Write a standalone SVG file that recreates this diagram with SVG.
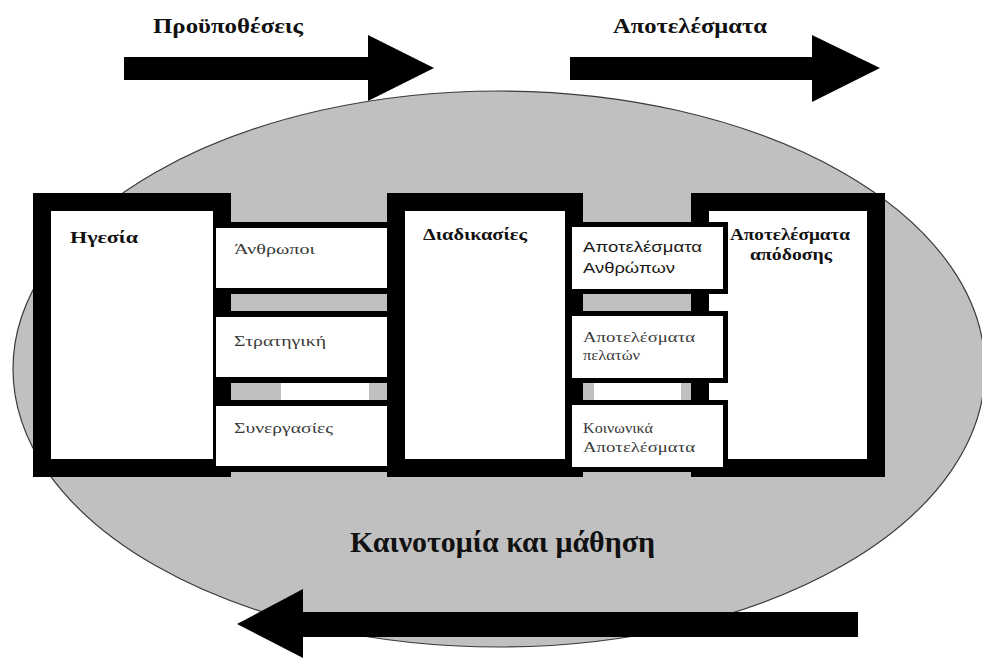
<svg xmlns="http://www.w3.org/2000/svg" width="982" height="659" viewBox="0 0 982 659">
  <style>
    .bold { font-family: "Liberation Serif", "DejaVu Serif", serif; font-weight: bold; fill: #111; }
    .item { font-family: "Liberation Serif", "DejaVu Serif", serif; font-size: 15px; fill: #3a3a3a; }
    .small { font-family: "Liberation Serif", "DejaVu Serif", serif; font-size: 14px; fill: #3a3a3a; }
    .sans { font-family: "Liberation Sans", Arial, sans-serif; font-size: 15px; fill: #1a1a1a; }
    .frame { fill: #ffffff; stroke: #000000; stroke-width: 18; }
    .box { fill: #ffffff; stroke: #000000; stroke-width: 5; }
    .strip { fill: #c0c0c0; }
    .gap { fill: #ffffff; }
    .arrow { fill: #000000; }
  </style>

  <!-- background ellipse -->
  <ellipse id="cycle" cx="499" cy="369" rx="486" ry="278" fill="#c0c0c0" stroke="#3a3a3a" stroke-width="1.2"/>

  <!-- arrows and the ladders that join the frames -->
  <g id="connectors">
    <polygon class="arrow" points="124,57 368,57 368,35 434,68 368,101 368,80 124,80"/>
    <polygon class="arrow" points="570,57 812,57 812,35 880,68 812,102 812,80 570,80"/>
    <polygon class="arrow" points="858,612 303,612 303,589 237,624 303,658 303,637 858,637"/>

    <!-- left ladder -->
    <rect x="213" y="222" width="176" height="250" fill="#000000"/>
    <rect class="strip" x="231" y="294" width="156" height="17"/>
    <rect class="strip" x="231" y="383" width="156" height="17"/>
    <rect class="gap" x="281" y="383" width="88" height="17"/>

    <!-- right ladder -->
    <rect class="strip" x="583" y="294" width="109" height="17"/>
    <rect class="strip" x="583" y="383" width="109" height="17"/>
    <rect class="gap" x="594" y="383" width="87" height="17"/>
  </g>

  <!-- main frames -->
  <g id="leadership">
    <rect class="frame" x="42" y="202" width="180" height="266"/>
    <text class="bold" x="70" y="243" font-size="17" textLength="68" lengthAdjust="spacingAndGlyphs">Ηγεσία</text>
  </g>
  <g id="processes">
    <rect class="frame" x="396" y="202" width="178" height="266"/>
    <text class="bold" x="423" y="240" font-size="16" textLength="104" lengthAdjust="spacingAndGlyphs">Διαδικασίες</text>
  </g>
  <g id="performance">
    <rect class="frame" x="700" y="202" width="176" height="266" stroke-width="17"/>
    <text class="bold" x="790" y="240" font-size="17" text-anchor="middle" textLength="120" lengthAdjust="spacingAndGlyphs">Αποτελέσματα</text>
    <text class="bold" x="791" y="260" font-size="17" text-anchor="middle" textLength="82" lengthAdjust="spacingAndGlyphs">απόδοσης</text>
  </g>

  <!-- enabler boxes -->
  <g id="people">
    <rect x="216" y="228" width="171" height="60" fill="#ffffff"/>
    <text class="item" x="234" y="254" textLength="81" lengthAdjust="spacingAndGlyphs">Άνθρωποι</text>
  </g>
  <g id="strategy">
    <rect x="216" y="317" width="171" height="60" fill="#ffffff"/>
    <text class="item" x="234" y="346" textLength="92" lengthAdjust="spacingAndGlyphs">Στρατηγική</text>
  </g>
  <g id="partnerships">
    <rect x="216" y="406" width="171" height="60" fill="#ffffff"/>
    <text class="item" x="234" y="433" textLength="99" lengthAdjust="spacingAndGlyphs">Συνεργασίες</text>
  </g>

  <!-- result boxes -->
  <g id="people-results">
    <rect class="box" x="569.5" y="224.5" width="156" height="67"/>
    <text class="sans" x="583" y="252" textLength="119" lengthAdjust="spacingAndGlyphs">Αποτελέσματα</text>
    <text class="sans" x="583" y="273" textLength="92" lengthAdjust="spacingAndGlyphs">Ανθρώπων</text>
  </g>
  <g id="customer-results">
    <rect class="box" x="569.5" y="313.5" width="156" height="67"/>
    <text class="small" x="583" y="342" textLength="112" lengthAdjust="spacingAndGlyphs">Αποτελέσματα</text>
    <text class="small" x="583" y="360" textLength="57" lengthAdjust="spacingAndGlyphs">πελατών</text>
  </g>
  <g id="society-results">
    <rect class="box" x="569.5" y="402.5" width="156" height="67"/>
    <text class="small" x="583" y="433" textLength="70" lengthAdjust="spacingAndGlyphs">Κοινωνικά</text>
    <text class="small" x="583" y="452" textLength="112" lengthAdjust="spacingAndGlyphs">Αποτελέσματα</text>
  </g>

  <!-- headings -->
  <text class="bold" x="153" y="33" font-size="20" textLength="150" lengthAdjust="spacingAndGlyphs">Προϋποθέσεις</text>
  <text class="bold" x="613" y="33" font-size="20" textLength="154" lengthAdjust="spacingAndGlyphs">Αποτελέσματα</text>
  <text class="bold" x="350" y="552" font-size="29" textLength="305" lengthAdjust="spacingAndGlyphs">Καινοτομία και μάθηση</text>
</svg>
